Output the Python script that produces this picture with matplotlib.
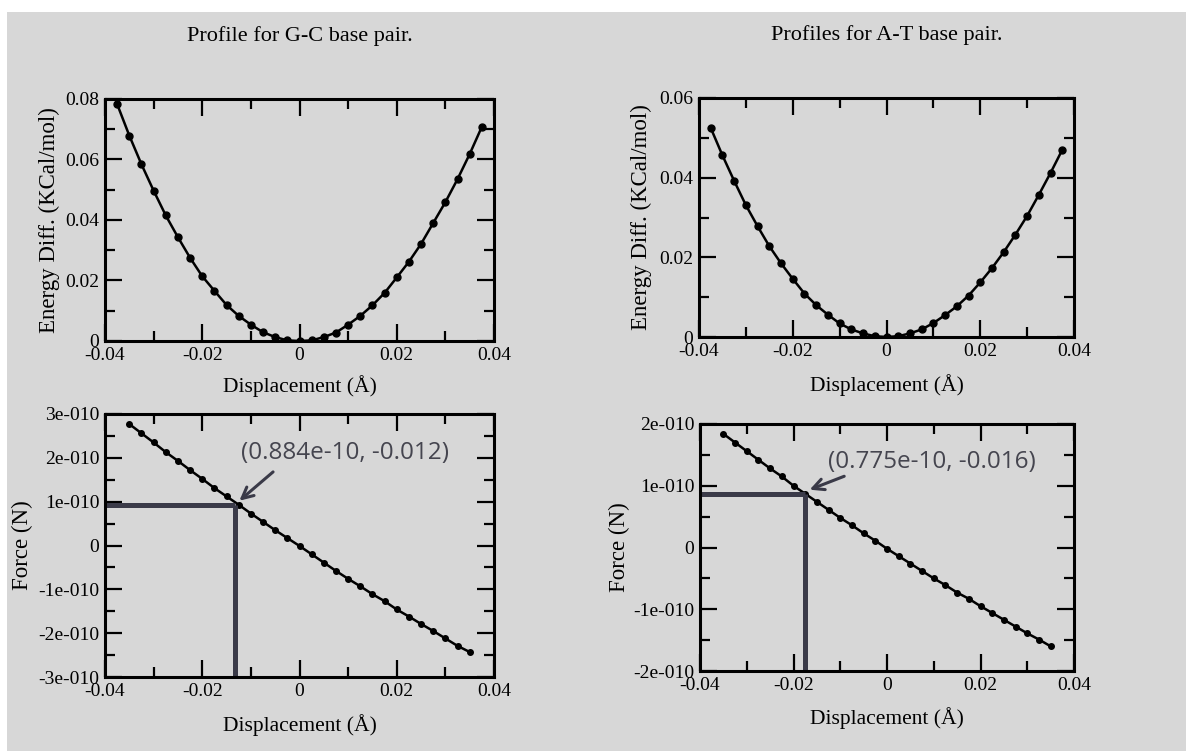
import numpy as np
import matplotlib
matplotlib.use("Agg")
import matplotlib.pyplot as plt
from matplotlib.patches import Rectangle
from matplotlib.ticker import MultipleLocator, FixedLocator, FixedFormatter

# desplazamientos (Angstrom)
x_energia = np.arange(-0.0375, 0.0376, 0.0025)
x_fuerza = np.arange(-0.035, 0.0351, 0.0025)

# energia G-C (KCal/mol)
energia_gc = [0.0783, 0.0679, 0.0584, 0.0497, 0.0415, 0.0343, 0.0275, 0.0214,
              0.0166, 0.0119, 0.0083, 0.0054, 0.0029, 0.0013, 0.0002, 0.0,
              0.0002, 0.0013, 0.0028, 0.0054, 0.0083, 0.0118, 0.0159, 0.0210,
              0.0262, 0.0321, 0.0390, 0.0459, 0.0535, 0.0618, 0.0708]

# energia A-T (KCal/mol)
energia_at = [0.0525, 0.0456, 0.0392, 0.0331, 0.0278, 0.0228, 0.0185, 0.0146,
              0.0109, 0.0080, 0.0056, 0.0034, 0.0019, 0.0009, 0.0002, 0.0,
              0.0002, 0.0009, 0.0019, 0.0035, 0.0055, 0.0077, 0.0104, 0.0137,
              0.0173, 0.0213, 0.0257, 0.0304, 0.0357, 0.0412, 0.0470]

# fuerza G-C (N), en unidades de 1e-10
fuerza_gc = [2.77, 2.56, 2.35, 2.13, 1.93, 1.72, 1.52, 1.31, 1.12, 0.93,
             0.73, 0.54, 0.35, 0.17, -0.01, -0.20, -0.39, -0.58, -0.76, -0.93,
             -1.11, -1.27, -1.46, -1.62, -1.79, -1.95, -2.12, -2.29, -2.43]

# fuerza A-T (N), en unidades de 1e-10
fuerza_at = [1.84, 1.70, 1.56, 1.42, 1.28, 1.15, 1.00, 0.87, 0.74, 0.61,
             0.48, 0.36, 0.23, 0.11, -0.02, -0.14, -0.26, -0.38, -0.50, -0.61,
             -0.73, -0.83, -0.95, -1.06, -1.17, -1.28, -1.39, -1.49, -1.60]

# puntos marcados a mano
punto_gc = (-0.0132, 0.93)
punto_at = (-0.0175, 0.87)
texto_gc = "(0.884e-10, -0.012)"
texto_at = "(0.775e-10, -0.016)"

xticks = [-0.04, -0.02, 0, 0.02, 0.04]
xtick_labels = ["-0.04", "-0.02", "0", "0.02", "0.04"]
yticks_e_gc = [0, 0.02, 0.04, 0.06, 0.08]
ylabels_e_gc = ["0", "0.02", "0.04", "0.06", "0.08"]
yticks_e_at = [0, 0.02, 0.04, 0.06]
ylabels_e_at = ["0", "0.02", "0.04", "0.06"]
yticks_f_gc = [-3, -2, -1, 0, 1, 2, 3]
ylabels_f_gc = ["-3e-010", "-2e-010", "-1e-010", "0", "1e-010", "2e-010", "3e-010"]
yticks_f_at = [-2, -1, 0, 1, 2]
ylabels_f_at = ["-2e-010", "-1e-010", "0", "1e-010", "2e-010"]

plt.rcParams['font.family'] = ['Liberation Serif', 'DejaVu Serif']
gris = '#d7d7d7'
oscuro = '#3a3a48'

fig = plt.figure(figsize=(11.86, 7.51), dpi=100, facecolor='white')
fig.patches.append(Rectangle((7/1186, 0), 1, 1 - 12/751, transform=fig.transFigure,
                             facecolor=gris, edgecolor='none', zorder=-10))

W, H = 1186, 751
def caja(l, r, t, b):
    return [l/W, 1 - b/H, (r-l)/W, (b-t)/H]

ax1 = fig.add_axes(caja(105, 494, 99, 341))
ax2 = fig.add_axes(caja(699, 1074, 98, 337))
ax3 = fig.add_axes(caja(105, 494, 414, 677))
ax4 = fig.add_axes(caja(700, 1074, 424, 671))

def estilo(ax, yticks, ylabels, ylim, ymenor, ylab, xlab_y, ylab_x):
    ax.set_facecolor(gris)
    ax.set_xlim(-0.04, 0.04)
    ax.set_ylim(*ylim)
    ax.xaxis.set_major_locator(FixedLocator(xticks))
    ax.xaxis.set_major_formatter(FixedFormatter(xtick_labels))
    ax.xaxis.set_minor_locator(MultipleLocator(0.01))
    ax.yaxis.set_major_locator(FixedLocator(yticks))
    ax.yaxis.set_major_formatter(FixedFormatter(ylabels))
    ax.yaxis.set_minor_locator(MultipleLocator(ymenor))
    ax.tick_params(which='both', direction='in', top=True, right=True,
                   width=1.6, labelsize=14, pad=4, colors='black')
    ax.tick_params(which='major', length=12)
    ax.tick_params(which='minor', length=7)
    for s in ax.spines.values():
        s.set_linewidth(2.2)
    ax.set_xlabel("Displacement (Å)", fontsize=15.5)
    ax.set_ylabel(ylab, fontsize=16.5)
    ax.xaxis.set_label_coords(0.5, xlab_y)
    ax.yaxis.set_label_coords(ylab_x, 0.5)

# energia G-C
ax1.plot(x_energia, energia_gc, color='black', lw=1.8, marker='o', ms=5)
estilo(ax1, yticks_e_gc, ylabels_e_gc, (0, 0.08), 0.01,
       "Energy Diff. (KCal/mol)", -0.14, -0.116)

# energia A-T
ax2.plot(x_energia, energia_at, color='black', lw=1.8, marker='o', ms=5)
estilo(ax2, yticks_e_at, ylabels_e_at, (0, 0.06), 0.01,
       "Energy Diff. (KCal/mol)", -0.155, -0.125)

# fuerza G-C
ax3.plot(x_fuerza, fuerza_gc, color='black', lw=1.8, marker='o', ms=4)
estilo(ax3, yticks_f_gc, ylabels_f_gc, (-3, 3), 0.5, "Force (N)", -0.14, -0.185)

# fuerza A-T
ax4.plot(x_fuerza, fuerza_at, color='black', lw=1.8, marker='o', ms=4)
estilo(ax4, yticks_f_at, ylabels_f_at, (-2, 2), 0.5, "Force (N)", -0.145, -0.187)

# lineas y flechas de los puntos marcados
for ax, p, txt, ymin, tail, tpos in [
        (ax3, punto_gc, texto_gc, -3, (-0.0050, 1.72), (0.0093, 2.12)),
        (ax4, punto_at, texto_at, -2, (-0.0086, 1.17), (0.0097, 1.39))]:
    ax.plot([-0.04, p[0]], [p[1], p[1]], color=oscuro, lw=3.6, solid_capstyle='butt')
    ax.plot([p[0], p[0]], [ymin, p[1]], color=oscuro, lw=3.6, solid_capstyle='butt')
    ax.annotate("", xy=(p[0] + 0.0004, p[1] + 0.05), xytext=tail,
                arrowprops=dict(arrowstyle='->,head_length=0.8,head_width=0.4',
                                color=oscuro, lw=2.2))
    ax.text(tpos[0], tpos[1], txt, ha='center', va='center', fontsize=17.5,
            color='#45454f', family=['Open Sans', 'DejaVu Sans'])

fig.text(300/W, 1 - 36/H, "Profile for G-C base pair.", ha='center', va='center', fontsize=16)
fig.text(887/W, 1 - 35/H, "Profiles for A-T base pair.", ha='center', va='center', fontsize=16)

fig.savefig("out.png", dpi=100, facecolor=fig.get_facecolor())
